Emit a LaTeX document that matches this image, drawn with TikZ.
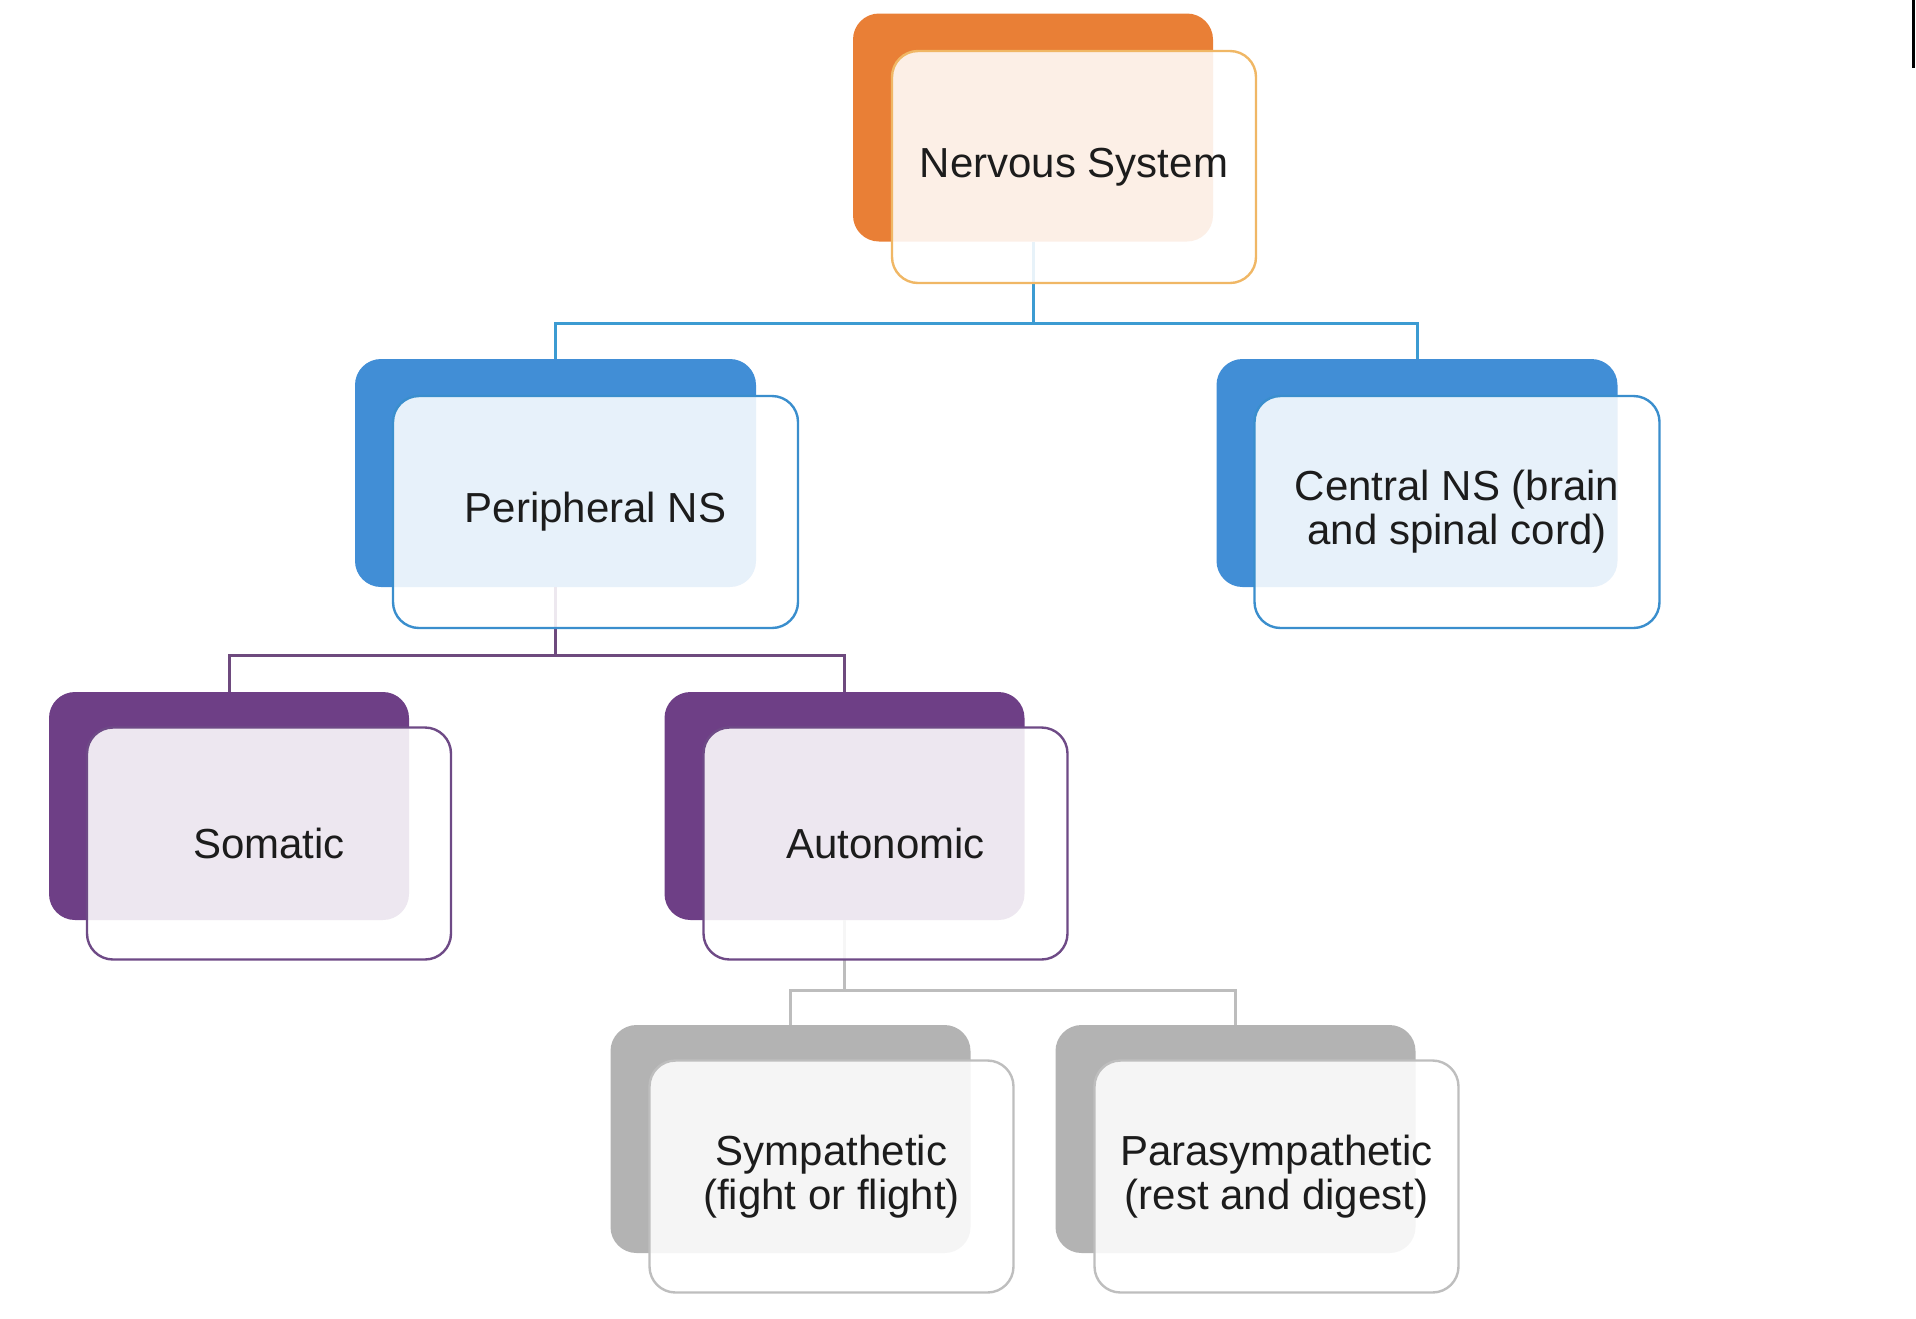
\documentclass[tikz,border=0pt]{standalone}
\usepackage{fontspec}
\setmainfont{Liberation Sans}
\begin{document}
\begin{tikzpicture}[x=0.5pt,y=-0.5pt,
  backbox/.style={rectangle,rounded corners=13pt,minimum width=180pt,minimum height=114pt,inner sep=0pt,outer sep=0pt,draw=none},
  frontbox/.style={rectangle,rounded corners=13pt,minimum width=182pt,minimum height=116pt,inner sep=0pt,outer sep=0pt,line width=1.2pt,fill=white,fill opacity=0.88,text opacity=1,text=textc,align=center,font=\fontsize{21}{22}\selectfont},
  wideback/.style={minimum width=200.5pt},
  widefront/.style={minimum width=202.5pt},
  conn/.style={line width=1.5pt}]
\definecolor{textc}{HTML}{1C1C1C}
\definecolor{orangeB}{HTML}{E97F36}
\definecolor{orangeF}{HTML}{F0B765}
\definecolor{blueB}{HTML}{418ED6}
\definecolor{blueF}{HTML}{3A8ECD}
\definecolor{blueL}{HTML}{3C9BD2}
\definecolor{purpB}{HTML}{6E3F86}
\definecolor{purpF}{HTML}{6E4A86}
\definecolor{purpL}{HTML}{6E4A7E}
\definecolor{grayB}{HTML}{B3B3B3}
\definecolor{grayF}{HTML}{BEBEBE}
\definecolor{grayL}{HTML}{BDBDBD}
\useasboundingbox (0,0) rectangle (1916,1318);
% back boxes
\node[backbox,fill=orangeB] (nsB) at (1033,127.5) {};
\node[backbox,wideback,fill=blueB] (pnsB) at (555.5,473) {};
\node[backbox,wideback,fill=blueB] (cnsB) at (1417,473) {};
\node[backbox,fill=purpB] (somB) at (229,806) {};
\node[backbox,fill=purpB] (autB) at (844.5,806) {};
\node[backbox,fill=grayB] (symB) at (790.5,1139) {};
\node[backbox,fill=grayB] (parB) at (1235.5,1139) {};
% junctions
\coordinate (j1) at (1033,323);
\coordinate (j2) at (555.5,655);
\coordinate (j3) at (844.5,990);
% connectors
\draw[conn,blueL] (nsB.south) -- (j1) -| (pnsB.north);
\draw[conn,blueL] (j1) -| (cnsB.north);
\draw[conn,purpL] (pnsB.south) -- (j2) -| (somB.north);
\draw[conn,purpL] (j2) -| (autB.north);
\draw[conn,grayL] (autB.south) -- (j3) -| (symB.north);
\draw[conn,grayL] (j3) -| (parB.north);
% front boxes
\node[frontbox,draw=orangeF] (nsF) at (1074,167) {\raisebox{-1.5pt}{Nervous System}};
\node[frontbox,widefront,draw=blueF] (pnsF) at (595.5,512) {Peripheral NS};
\node[frontbox,widefront,draw=blueF] (cnsF) at (1457,512) {Central NS (brain\\and spinal cord)};
\node[frontbox,draw=purpF] (somF) at (269,843.5) {Somatic};
\node[frontbox,draw=purpF] (autF) at (885.5,843.5) {Autonomic};
\node[frontbox,draw=grayF] (symF) at (831.5,1176.5) {Sympathetic\\(fight or flight)};
\node[frontbox,draw=grayF] (parF) at (1276.5,1176.5) {Parasympathetic\\(rest and digest)};
% edge artifact
\coordinate (m1) at (1913.5,0);
\coordinate (m2) at (1913.5,68);
\draw[line width=1.5pt,black] (m1) -- (m2);
\end{tikzpicture}
\end{document}
